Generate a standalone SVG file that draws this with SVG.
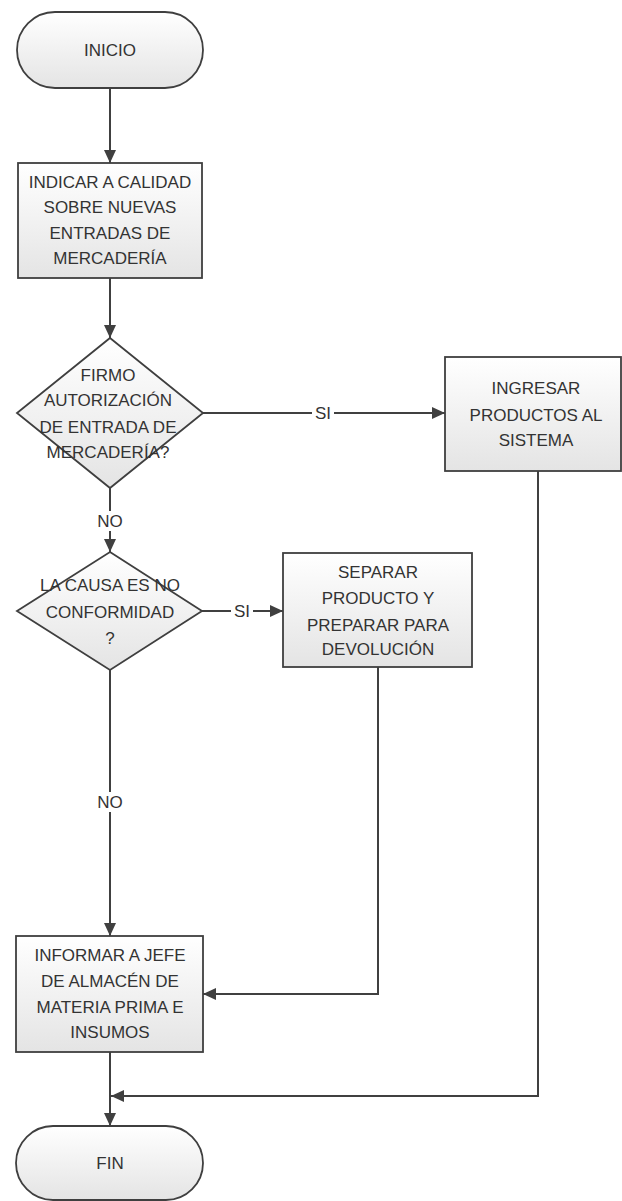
<svg xmlns="http://www.w3.org/2000/svg" width="622" height="1201" viewBox="0 0 622 1201">
<style>
.shape{fill:url(#g);stroke:#3f3f3f;stroke-width:1.8}
.t{font-family:"Liberation Sans",Arial,sans-serif;font-size:17px;fill:#333;text-anchor:middle}
.c{fill:none;stroke:#404040;stroke-width:2}
.lbg{fill:#fff}
</style>
<defs>
<linearGradient id="g" x1="0" y1="0" x2="0" y2="1">
<stop offset="0" stop-color="#ffffff"/>
<stop offset="1" stop-color="#e4e4e4"/>
</linearGradient>
<marker id="a" markerUnits="userSpaceOnUse" markerWidth="14" markerHeight="14" refX="13" refY="7" orient="auto">
<path d="M0,1 L13,7 L0,13 z" fill="#404040"/>
</marker>
</defs>
<rect width="622" height="1201" fill="#fff"/>
<g id="connectors">
<path class="c" d="M110,88 V163" marker-end="url(#a)"/>
<path class="c" d="M110,278 V338" marker-end="url(#a)"/>
<path class="c" d="M203,413 H445" marker-end="url(#a)"/>
<path class="c" d="M110,488 V552" marker-end="url(#a)"/>
<path class="c" d="M202,611 H283" marker-end="url(#a)"/>
<path class="c" d="M110,670 V936" marker-end="url(#a)"/>
<path class="c" d="M378,667 V994 H203" marker-end="url(#a)"/>
<path class="c" d="M110,1052 V1126" marker-end="url(#a)"/>
<path class="c" d="M538,471 V1096 H111" marker-end="url(#a)"/>
<rect class="lbg" x="312" y="403" width="22" height="20"/>
<text class="t" x="323" y="419">SI</text>
<rect class="lbg" x="96" y="511" width="28" height="20"/>
<text class="t" x="110" y="527">NO</text>
<rect class="lbg" x="231" y="601" width="22" height="20"/>
<text class="t" x="242" y="617">SI</text>
<rect class="lbg" x="96" y="792" width="28" height="20"/>
<text class="t" x="110" y="808">NO</text>
</g>
<g id="inicio">
<rect class="shape" x="17" y="12" width="186" height="76" rx="38"/>
<text class="t" x="110" y="56">INICIO</text>
</g>
<g id="indicar">
<rect class="shape" x="18" y="163" width="184" height="115"/>
<text class="t" x="110" y="188">INDICAR A CALIDAD</text>
<text class="t" x="110" y="213">SOBRE NUEVAS</text>
<text class="t" x="110" y="239">ENTRADAS DE</text>
<text class="t" x="110" y="264">MERCADERÍA</text>
</g>
<g id="firmo">
<path class="shape" d="M110,338 L203,413 L110,488 L17,413 z"/>
<text class="t" x="108" y="381">FIRMO</text>
<text class="t" x="108" y="406">AUTORIZACIÓN</text>
<text class="t" x="108" y="433">DE ENTRADA DE</text>
<text class="t" x="108" y="458">MERCADERÍA?</text>
</g>
<g id="ingresar">
<rect class="shape" x="445" y="357" width="176" height="114"/>
<text class="t" x="536" y="394">INGRESAR</text>
<text class="t" x="536" y="421">PRODUCTOS AL</text>
<text class="t" x="536" y="446">SISTEMA</text>
</g>
<g id="causa">
<path class="shape" d="M110,552 L202,611 L110,670 L17,611 z"/>
<text class="t" x="110" y="591">LA CAUSA ES NO</text>
<text class="t" x="110" y="618">CONFORMIDAD</text>
<text class="t" x="110" y="644">?</text>
</g>
<g id="separar">
<rect class="shape" x="283" y="553" width="189" height="114"/>
<text class="t" x="378" y="578">SEPARAR</text>
<text class="t" x="378" y="604">PRODUCTO Y</text>
<text class="t" x="378" y="631">PREPARAR PARA</text>
<text class="t" x="378" y="655">DEVOLUCIÓN</text>
</g>
<g id="informar">
<rect class="shape" x="16" y="936" width="187" height="116"/>
<text class="t" x="110" y="961">INFORMAR A JEFE</text>
<text class="t" x="110" y="987">DE ALMACÉN DE</text>
<text class="t" x="110" y="1013">MATERIA PRIMA E</text>
<text class="t" x="110" y="1038">INSUMOS</text>
</g>
<g id="fin">
<rect class="shape" x="16" y="1126" width="187" height="74" rx="37"/>
<text class="t" x="110" y="1169">FIN</text>
</g>
</svg>
